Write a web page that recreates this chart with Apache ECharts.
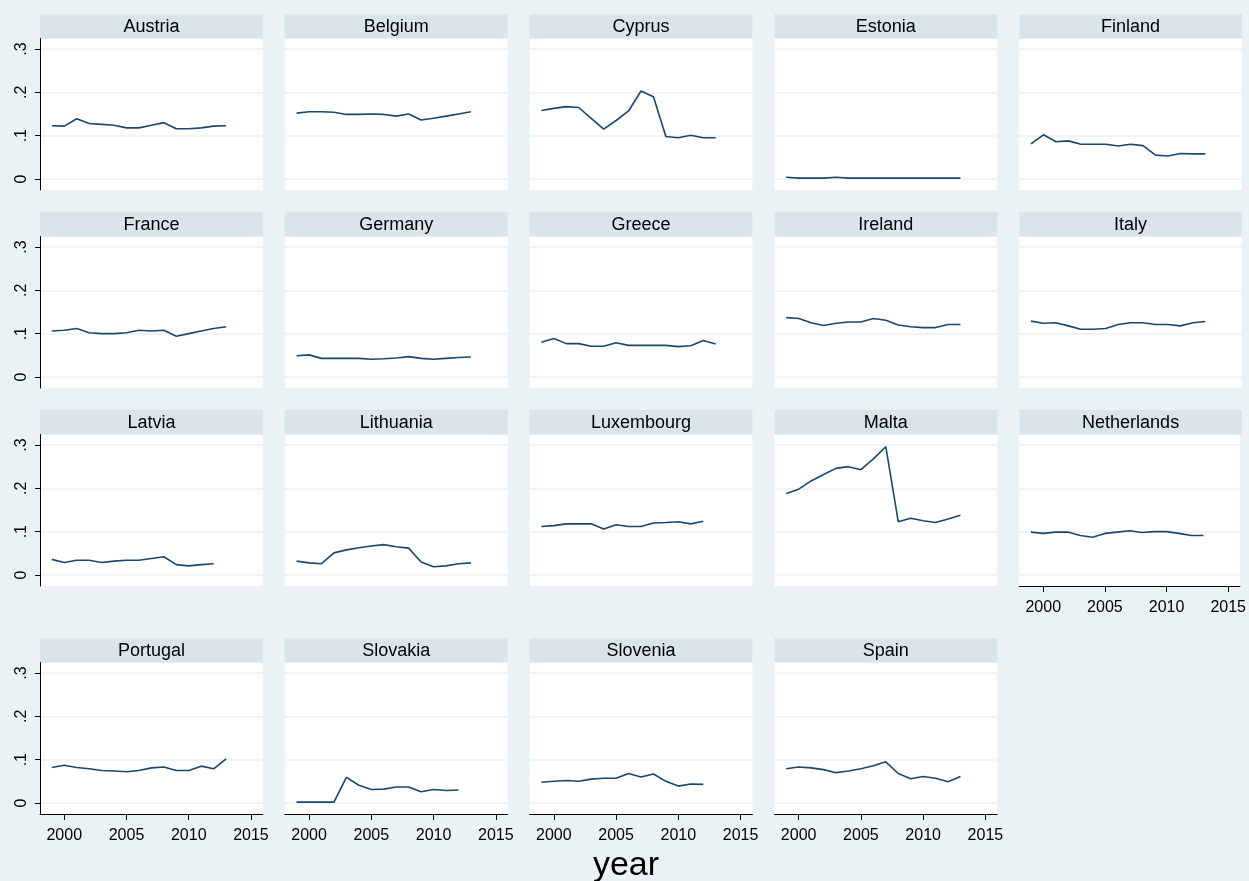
<!DOCTYPE html>
<html>
<head>
<meta charset="utf-8">
<script src="https://cdn.jsdelivr.net/npm/echarts@6/dist/echarts.min.js"></script>
<style>
html,body{margin:0;padding:0;background:#eaf2f3;}
#chart{width:1249px;height:881px;}
</style>
</head>
<body>
<div id="chart"></div>
<script>
const years = [1999,2000,2001,2002,2003,2004,2005,2006,2007,2008,2009,2010,2011,2012,2013];
const countries = ['Austria','Belgium','Cyprus','Estonia','Finland','France','Germany','Greece','Ireland','Italy','Latvia','Lithuania','Luxembourg','Malta','Netherlands','Portugal','Slovakia','Slovenia','Spain'];
const xTickLabels = [2000,2005,2010,2015];
const yTickValues = [0,0.1,0.2,0.3];
const yTickLabels = ['0','.1','.2','.3'];

const austria     = [0.123,0.122,0.139,0.128,0.126,0.124,0.118,0.118,0.124,0.130,0.116,0.116,0.118,0.122,0.123];
const belgium     = [0.152,0.155,0.155,0.154,0.149,0.149,0.150,0.149,0.145,0.150,0.136,0.140,0.145,0.150,0.155];
const cyprus      = [0.158,0.163,0.167,0.165,0.140,0.115,0.135,0.157,0.203,0.190,0.098,0.095,0.101,0.095,0.095];
const estonia     = [0.004,0.002,0.002,0.002,0.004,0.002,0.002,0.002,0.002,0.002,0.002,0.002,0.002,0.002,0.002];
const finland     = [0.081,0.102,0.086,0.088,0.080,0.080,0.080,0.076,0.080,0.077,0.055,0.053,0.059,0.058,0.058];
const france      = [0.106,0.108,0.112,0.102,0.100,0.100,0.102,0.108,0.106,0.108,0.094,0.100,0.106,0.112,0.116];
const germany     = [0.049,0.051,0.043,0.043,0.043,0.043,0.041,0.042,0.044,0.047,0.043,0.041,0.043,0.045,0.046];
const greece      = [0.080,0.089,0.077,0.077,0.071,0.071,0.079,0.073,0.073,0.073,0.073,0.070,0.072,0.084,0.076];
const ireland     = [0.137,0.135,0.125,0.119,0.124,0.127,0.127,0.135,0.131,0.120,0.116,0.114,0.114,0.121,0.121];
const italy       = [0.129,0.124,0.125,0.118,0.110,0.110,0.112,0.121,0.125,0.125,0.121,0.121,0.118,0.125,0.128];
const latvia      = [0.036,0.029,0.034,0.034,0.029,0.032,0.034,0.034,0.038,0.042,0.024,0.021,0.024,0.026];
const lithuania   = [0.032,0.028,0.026,0.051,0.058,0.063,0.067,0.070,0.065,0.062,0.030,0.019,0.021,0.026,0.028];
const luxembourg  = [0.112,0.114,0.118,0.118,0.118,0.106,0.116,0.112,0.112,0.120,0.121,0.123,0.118,0.124];
const malta       = [0.188,0.198,0.217,0.232,0.246,0.250,0.243,0.268,0.296,0.123,0.131,0.125,0.121,0.129,0.138];
const netherlands = [0.099,0.096,0.099,0.099,0.091,0.087,0.096,0.099,0.102,0.098,0.100,0.100,0.096,0.091,0.091];
const portugal    = [0.082,0.087,0.082,0.079,0.075,0.074,0.072,0.075,0.081,0.083,0.075,0.075,0.085,0.079,0.102];
const slovakia    = [0.002,0.002,0.002,0.002,0.059,0.041,0.031,0.032,0.037,0.037,0.026,0.031,0.029,0.030];
const slovenia    = [0.048,0.050,0.052,0.050,0.055,0.057,0.057,0.068,0.060,0.067,0.050,0.039,0.044,0.043];
const spain       = [0.079,0.083,0.081,0.077,0.070,0.074,0.079,0.086,0.095,0.068,0.056,0.061,0.057,0.049,0.061];

const seriesValues = [austria,belgium,cyprus,estonia,finland,france,germany,greece,ireland,italy,latvia,lithuania,luxembourg,malta,netherlands,portugal,slovakia,slovenia,spain];

const colLeft = [40, 284.8, 529.6, 774.4, 1019.2];
const rowTop = [14, 212, 410, 638];
const panelW = 222.8, stripH = 24.5, plotH = 151.5;
const FONT = '"Liberation Sans", Arial, sans-serif';

const grids = [], xAxes = [], yAxes = [], series = [], graphics = [];
countries.forEach((name, i) => {
  const r = Math.floor(i / 5), c = i % 5;
  const left = colLeft[c], top = rowTop[r];
  const showX = (r === 3) || name === 'Netherlands';
  const showY = (c === 0);
  grids.push({left: left, top: top + stripH, width: panelW, height: plotH,
    show: true, backgroundColor: '#ffffff', borderWidth: 0, containLabel: false});
  xAxes.push({type: 'value', gridIndex: i, min: 1998.05, max: 2015.95,
    axisLine: {show: showX, onZero: false, lineStyle: {color: '#000', width: 1}},
    axisTick: {show: showX, length: 6, customValues: xTickLabels, lineStyle: {color: '#000', width: 1}},
    axisLabel: {show: showX, customValues: xTickLabels, fontSize: 16, color: '#000', margin: 14, fontFamily: FONT,
      formatter: v => String(Math.round(v))},
    splitLine: {show: false}});
  yAxes.push({type: 'value', gridIndex: i, min: -0.0254, max: 0.3242,
    axisLine: {show: showY, onZero: false, lineStyle: {color: '#000', width: 1}},
    axisTick: {show: showY, length: 5, customValues: yTickValues, lineStyle: {color: '#000', width: 1}},
    axisLabel: {show: showY, customValues: yTickValues, rotate: 90, fontSize: 16, color: '#000', margin: 10, fontFamily: FONT,
      formatter: v => yTickLabels[yTickValues.findIndex(t => Math.abs(t - v) < 1e-6)]},
    splitLine: {show: true, lineStyle: {color: '#eaf2f3', width: 1.5}}});
  const vals = seriesValues[i];
  series.push({type: 'line', xAxisIndex: i, yAxisIndex: i, symbol: 'none', silent: true,
    data: vals.map((v, k) => [years[k], v]),
    lineStyle: {color: '#1a476f', width: 1.6}});
  graphics.push({type: 'rect', shape: {x: left, y: top, width: panelW, height: stripH},
    style: {fill: '#d9e5ea'}, silent: true});
  graphics.push({type: 'text', x: left + panelW / 2, y: top + stripH / 2 + 0.5,
    style: {text: name, fontSize: 18, fontFamily: FONT, fill: '#000', align: 'center', verticalAlign: 'middle'}, silent: true});
});
graphics.push({type: 'text', x: 626, y: 866,
  style: {text: 'year', fontSize: 34, fontFamily: FONT, fill: '#000', align: 'center', verticalAlign: 'middle'}, silent: true});

const chart = echarts.init(document.getElementById('chart'), null, {renderer: 'canvas'});
chart.setOption({
  backgroundColor: '#eaf2f3',
  animation: false,
  grid: grids, xAxis: xAxes, yAxis: yAxes, series: series,
  graphic: graphics
});
</script>
</body>
</html>
